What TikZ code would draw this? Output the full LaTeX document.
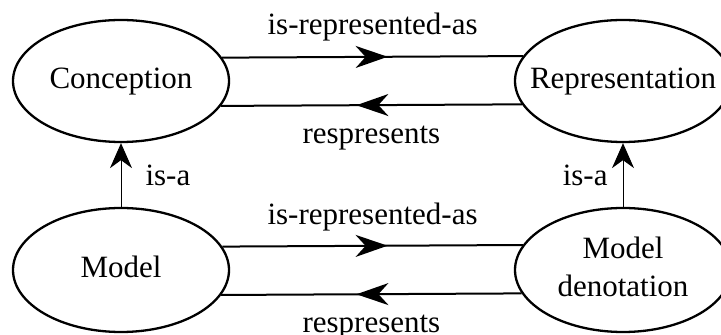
\documentclass[tikz,border=0pt]{standalone}
\usepackage{fontspec}
\setmainfont{Liberation Serif}
\usepackage{tikz}
\usetikzlibrary{arrows.meta,shapes.geometric,decorations.markings,positioning,calc}

\tikzset{
	thing/.style={draw, ellipse, line width=1.15pt, inner sep=0pt, minimum width=108pt, minimum height=61pt},
	relation/.style={line width=1pt, postaction={decorate}, decoration={markings, mark=at position 0.55 with {\arrow{Stealth[length=16pt,width=11pt,inset=5pt]}}}},
	isa/.style={line width=0.5pt, -{Stealth[length=12.5pt,width=11pt,inset=4pt]}},
	lbl/.style={inner sep=0pt}
}
% text of fixed width zero, so the ellipse keeps its own size
\newcommand{\thingtext}[1]{\makebox[0pt]{\begin{tabular}{@{}c@{}}#1\end{tabular}}}

\begin{document}
\begin{tikzpicture}[x=0.5pt, y=-0.5pt, font=\fontsize{15.5}{18.6}\selectfont]
				\useasboundingbox (0,0) rectangle (721,335);
				\node[thing] (conception) at (121,81) {\thingtext{Conception}};
				\node[thing] (representation) at (623,81) {\thingtext{Representation}};
				\node[thing, minimum height=62pt] (model) at (121,270) {\thingtext{Model}};
				\node[thing, minimum height=62pt] (denotation) at (623,270) {\thingtext{Model\\denotation}};
				\draw[relation] (conception.13.6) -- (representation.166.4) node[lbl, midway, above=7.5pt] {is-represented-as};
				\draw[relation] (representation.193.6) -- (conception.346.4) node[lbl, midway, below=10pt] {respresents};
				\draw[relation] (model.13.5) -- (denotation.166.5) node[lbl, midway, above=7pt] {is-represented-as};
				\draw[relation] (denotation.193.5) -- (model.346.5) node[lbl, midway, below=10pt] {respresents};
				\draw[isa] (model.north) -- (conception.south) node[lbl, midway, right=12pt] {is-a};
				\draw[isa] (denotation.north) -- (representation.south) node[lbl, midway, left=7.5pt] {is-a};
\end{tikzpicture}
\end{document}
